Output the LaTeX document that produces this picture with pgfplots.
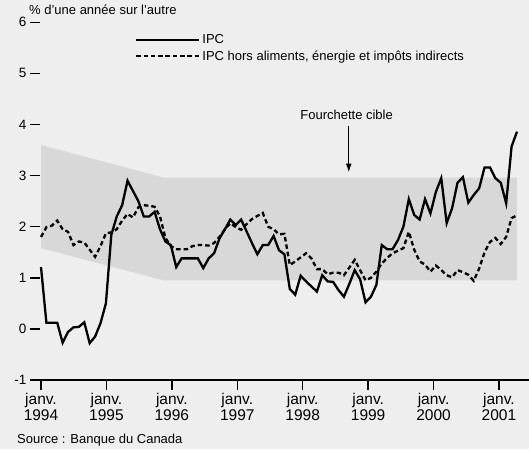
\documentclass[border=0pt]{standalone}
\usepackage{fontspec}
\setmainfont{Liberation Sans}
\usepackage{pgfplots}
\pgfplotsset{compat=1.18}
\usepackage{pgfplotstable}
\usetikzlibrary{arrows.meta}
\definecolor{bg}{RGB}{238,238,238}
\definecolor{band}{RGB}{216,216,216}

% month index 0 = janv. 1994
\pgfplotstableread{
i v
0 1.21
1 0.12
2 0.12
3 0.12
4 -0.27
5 -0.06
6 0.03
7 0.04
8 0.13
9 -0.28
10 -0.15
11 0.11
12 0.50
13 1.84
14 2.20
15 2.42
16 2.90
17 2.70
18 2.50
19 2.20
20 2.20
21 2.29
22 1.95
23 1.71
24 1.64
25 1.21
26 1.38
27 1.38
28 1.38
29 1.38
30 1.19
31 1.38
32 1.48
33 1.77
34 1.95
35 2.14
36 2.03
37 2.14
38 1.91
39 1.68
40 1.46
41 1.64
42 1.64
43 1.82
44 1.54
45 1.46
46 0.78
47 0.67
48 1.04
49 0.93
50 0.83
51 0.73
52 1.05
53 0.93
54 0.92
55 0.76
56 0.63
57 0.88
58 1.15
59 0.97
60 0.52
61 0.63
62 0.86
63 1.64
64 1.56
65 1.56
66 1.74
67 2.00
68 2.54
69 2.23
70 2.14
71 2.54
72 2.26
73 2.68
74 2.95
75 2.07
76 2.36
77 2.86
78 2.97
79 2.47
80 2.62
81 2.75
82 3.16
83 3.16
84 2.95
85 2.86
86 2.46
87 3.57
88 3.86
}\ipc

\pgfplotstableread{
i v
0 1.80
1 1.99
2 2.02
3 2.12
4 1.95
5 1.90
6 1.64
7 1.71
8 1.69
9 1.55
10 1.41
11 1.62
12 1.87
13 1.89
14 1.95
15 2.12
16 2.25
17 2.18
18 2.38
19 2.42
20 2.41
21 2.39
22 2.20
23 1.78
24 1.62
25 1.56
26 1.56
27 1.56
28 1.62
29 1.64
30 1.64
31 1.63
32 1.68
33 1.80
34 1.95
35 2.07
36 1.99
37 1.94
38 2.05
39 2.15
40 2.21
41 2.27
42 2.00
43 1.95
44 1.85
45 1.86
46 1.25
47 1.32
48 1.40
49 1.48
50 1.38
51 1.17
52 1.17
53 1.07
54 1.10
55 1.10
56 1.05
57 1.20
58 1.35
59 1.15
60 0.95
61 1.00
62 1.12
63 1.28
64 1.39
65 1.48
66 1.53
67 1.58
68 1.90
69 1.55
70 1.32
71 1.26
72 1.12
73 1.24
74 1.15
75 1.05
76 1.01
77 1.15
78 1.11
79 1.06
80 0.94
81 1.18
82 1.50
83 1.70
84 1.78
85 1.66
86 1.80
87 2.17
88 2.22
}\ipcx

\begin{document}
\begin{tikzpicture}[x=1pt,y=1pt]
\fill[bg] (0,0) rectangle (529,449);
\begin{axis}[
  at={(40pt,69pt)}, anchor=south west,
  scale only axis, width=489pt, height=357.7pt,
  xmin=-0.185, xmax=90.22, ymin=-1, ymax=6,
  axis x line=bottom, axis y line=left,
  x axis line style={-, line width=1.4pt, shorten <=-10pt},
  y axis line style={draw=none},
  tick align=outside, major tick length=10pt,
  tick style={line width=1.4pt, black},
  /pgf/number format/assume math mode=true,
  xtick={0,12.096,24.191,36.287,48.383,60.478,72.574,84.670},
  xticklabels={janv.\\1994,janv.\\1995,janv.\\1996,janv.\\1997,janv.\\1998,janv.\\1999,janv.\\2000,janv.\\2001},
  xticklabel style={align=center, font=\fontsize{15.5}{16}\selectfont},
  ytick={-1,0,1,2,3,4,5,6},
  yticklabels={-1,0,1,2,3,4,5,6},
  yticklabel style={font=\fontsize{13.5}{15}\selectfont},
  legend image code/.code={\draw[#1] (0pt,0pt) -- (63pt,0pt);},
  legend style={draw=none, fill=none, at={(0.188,0.978)}, anchor=north west,
    font=\fontsize{13}{15}\selectfont, legend cell align=left, row sep=1.5pt},
]
\addplot[fill=band, draw=none, forget plot] coordinates {(0,3.6) (22.7,2.96) (88,2.96) (88,0.95) (22.7,0.95) (0,1.58)} -- cycle;
\addlegendimage{black, line width=2.3pt}
\addlegendentry{IPC}
\addlegendimage{black, line width=2.3pt, dash pattern=on 4.5pt off 2.8pt}
\addlegendentry{IPC hors aliments, énergie et impôts indirects}
\addplot[black, line width=2.3pt, dash pattern=on 4.5pt off 3pt, forget plot] table[x=i,y=v] {\ipcx};
\addplot[black, line width=2.3pt, line join=miter, forget plot] table[x=i,y=v] {\ipc};
\draw[line width=1.4pt, -{Latex[length=9pt,width=6pt]}] (axis cs:56.9,3.97) -- (axis cs:56.9,3.06);
\node[anchor=base, font=\fontsize{13}{15}\selectfont] at (axis cs:56.5,4.10) {Fourchette cible};
\end{axis}
\node[anchor=base west, font=\fontsize{13}{15}\selectfont, inner sep=0pt] at (29,434) {\% d'une année sur l'autre};
\node[anchor=base west, font=\fontsize{13}{15}\selectfont, inner sep=0pt] at (17,5.7) {Source : Banque du Canada};
\pgfresetboundingbox
\path[use as bounding box] (0,0) rectangle (529,449);
\end{tikzpicture}
\end{document}
